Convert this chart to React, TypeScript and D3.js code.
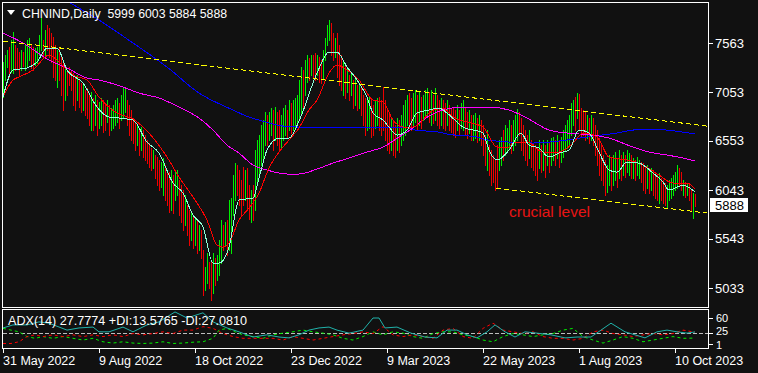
import React from "react";
import * as d3 from "d3";

// ---------------- DATA ----------------
const title = "CHNIND,Daily  5999 6003 5884 5888";
const adxTitle = "ADX(14) 27.7774 +DI:13.5765 -DI:27.0810";
const lastClose = 5888;

const highs = [
  7367, 7439, 7490, 7521, 7594, 7676, 7542, 7511, 7470, 7490,
  7470, 7542, 7594, 7614, 7542, 7521, 7511, 7521, 7645, 7821,
  7594, 7697, 7749, 7718, 7666, 7625, 7542, 7490, 7511, 7439,
  7387, 7336, 7284, 7315, 7284, 7253, 7201, 7232, 7181, 7150,
  7129, 7077, 7098, 7026, 7057, 6995, 7026, 6974, 6953, 6995,
  6974, 6943, 6974, 6922, 6891, 6922, 6974, 6995, 6943, 7026,
  7108, 7108, 6974, 6922, 6871, 6788, 6747, 6716, 6685, 6695,
  6664, 6612, 6561, 6530, 6478, 6457, 6406, 6385, 6354, 6334,
  6375, 6303, 6251, 6230, 6251, 6199, 6251, 6251, 6147, 6096,
  6044, 5993, 5889, 5838, 5817, 5786, 5755, 5734, 5683, 5631,
  5425, 5249, 5394, 5301, 5322, 5394, 5342, 5373, 5528, 5734,
  5683, 5714, 5734, 5941, 5962, 6199, 6323, 6303, 6251, 6147,
  6282, 6251, 6272, 6096, 6044, 6096, 6457, 6561, 6612, 6716,
  6767, 6850, 6819, 6850, 6891, 6871, 6902, 6850, 6871, 6819,
  6891, 6922, 6871, 6974, 6943, 6974, 6995, 7026, 7181, 7315,
  7284, 7387, 7439, 7408, 7439, 7439, 7460, 7439, 7418, 7387,
  7490, 7614, 7749, 7800, 7769, 7666, 7614, 7666, 7542, 7439,
  7387, 7336, 7305, 7232, 7263, 7181, 7201, 7129, 7150, 7098,
  7026, 6995, 6974, 7005, 6974, 6922, 6974, 6995, 7005, 6974,
  7108, 6974, 6871, 6819, 6788, 6767, 6716, 6788, 6767, 6819,
  6922, 6974, 7026, 7046, 6995, 7046, 7077, 7026, 7057, 7005,
  7026, 7077, 7098, 7057, 7077, 7026, 7098, 7026, 6974, 6995,
  6974, 6943, 6974, 6922, 6891, 6891, 6871, 6922, 6871, 6943,
  6974, 6891, 6850, 6871, 6819, 6819, 6840, 6788, 6819, 6767,
  6716, 6612, 6664, 6509, 6457, 6406, 6354, 6509, 6561, 6592,
  6664, 6716, 6685, 6767, 6716, 6767, 6819, 6881, 6850, 6788,
  6716, 6664, 6612, 6664, 6561, 6530, 6509, 6478, 6561, 6509,
  6561, 6509, 6561, 6530, 6581, 6592, 6561, 6612, 6561, 6592,
  6664, 6716, 6767, 6819, 6943, 6974, 7005, 7046, 7036, 6891,
  6871, 6850, 6819, 6788, 6819, 6788, 6716, 6664, 6581, 6509,
  6406, 6354, 6303, 6406, 6375, 6406, 6437, 6375, 6457, 6406,
  6437, 6406, 6457, 6427, 6406, 6375, 6354, 6385, 6354, 6334,
  6323, 6282, 6303, 6251, 6272, 6251, 6230, 6199, 6220, 6168,
  6147, 6117, 6096, 6147, 6168, 6199, 6230, 6303, 6272, 6230,
  6147, 6127, 6117, 6096, 6044, 6013, 6003,
];

const lows = [
  7005, 7181, 7315, 7212, 7263, 7253, 7284, 7305, 7232, 7284,
  7325, 7284, 7315, 7387, 7305, 7284, 7336, 7356, 7439, 7490,
  7418, 7439, 7490, 7418, 7367, 7212, 7181, 7108, 7181, 7026,
  6871, 6974, 7026, 7129, 7077, 6922, 6871, 6974, 6902, 6850,
  6871, 6819, 6788, 6716, 6664, 6664, 6716, 6612, 6685, 6716,
  6643, 6664, 6747, 6612, 6664, 6685, 6716, 6747, 6685, 6768,
  6788, 6850, 6716, 6612, 6561, 6530, 6457, 6509, 6406, 6457,
  6385, 6354, 6323, 6282, 6251, 6272, 6168, 6096, 6044, 6075,
  5993, 5941, 5889, 5817, 5838, 5807, 5941, 5993, 5786, 5714,
  5631, 5683, 5579, 5476, 5528, 5445, 5476, 5394, 5424, 5342,
  4960, 5011, 5084, 5032, 4908, 4980, 5063, 5115, 5166, 5290,
  5424, 5476, 5373, 5424, 5394, 5786, 5941, 5993, 5889, 5786,
  5889, 5941, 5838, 5745, 5714, 5734, 5838, 6096, 6199, 6303,
  6354, 6509, 6509, 6561, 6612, 6457, 6561, 6509, 6457, 6478,
  6561, 6612, 6581, 6664, 6633, 6664, 6685, 6716, 6767, 6819,
  6871, 7026, 7160, 7181, 7232, 7201, 7181, 7232, 7160, 7150,
  7201, 7387, 7542, 7594, 7439, 7387, 7418, 7212, 7129, 7077,
  7026, 6995, 7057, 6974, 7026, 6891, 6922, 6871, 6891, 6819,
  6716, 6612, 6664, 6685, 6592, 6612, 6685, 6716, 6664, 6612,
  6664, 6561, 6457, 6427, 6457, 6406, 6385, 6457, 6437, 6509,
  6561, 6612, 6716, 6685, 6664, 6716, 6747, 6664, 6716, 6685,
  6767, 6788, 6819, 6747, 6716, 6737, 6767, 6716, 6685, 6716,
  6685, 6664, 6716, 6664, 6643, 6612, 6592, 6664, 6612, 6685,
  6664, 6612, 6581, 6633, 6561, 6561, 6581, 6540, 6561, 6509,
  6406, 6303, 6251, 6199, 6096, 6127, 6044, 6065, 6251, 6303,
  6354, 6406, 6457, 6478, 6427, 6457, 6509, 6561, 6612, 6457,
  6406, 6354, 6303, 6375, 6282, 6251, 6199, 6147, 6272, 6230,
  6251, 6179, 6303, 6230, 6303, 6354, 6303, 6375, 6282, 6334,
  6385, 6457, 6478, 6509, 6612, 6716, 6664, 6788, 6664, 6592,
  6612, 6561, 6581, 6530, 6561, 6509, 6406, 6303, 6199, 6147,
  6096, 5993, 6024, 6096, 6044, 6096, 6147, 6075, 6168, 6147,
  6199, 6179, 6230, 6199, 6168, 6168, 6147, 6199, 6168, 6127,
  6044, 6013, 6065, 6013, 6044, 5993, 5962, 5941, 5910, 5941,
  5910, 5889, 5858, 5941, 5962, 5993, 6044, 6065, 6096, 6044,
  5993, 5972, 5993, 5941, 5838, 5755, 5884,
];

// u = up bar, d = down bar
const barDirections =
  "uuudu udddu duuud duuuu dudd d ddudd duddd ddudd uddd u duduu ddudu uuudu uuddd ddudu ddddd udddu udddu duudd dudd u dudud duudd uduuu dudu u uuddd dudd u duuuu uudu u dudd u uudud uuuuu duudu ddudd uuuud duddd ududu dudud dduud duudd dddd u ddudu uuudd uudud uuudu dudd u ddudd ddudu uddud uudud ddudd ddduu duuud uuudd dddud dddud ududu ududu uuuuu ududd ddudu ddddd dduud uudud uduud uduud ddudu dddud dduuu uuudd ududd ud";

// moving averages: [bar index, price]
const cyanMA: [number, number][] = [
  [0, 7005], [5, 7284], [12, 7305], [17, 7367], [22, 7511], [27, 7511], [32, 7284],
  [40, 7150], [47, 6902], [53, 6798], [58, 6788], [65, 6767], [72, 6540], [78, 6426],
  [85, 6117], [90, 6013], [95, 5786], [100, 5662], [105, 5290], [108, 5290], [113, 5455],
  [118, 5941], [125, 5962], [128, 6168], [132, 6457], [138, 6581], [143, 6581], [148, 6757],
  [157, 7253], [163, 7470], [167, 7470], [172, 7315], [177, 7181], [182, 7005], [185, 6840],
  [190, 6767], [193, 6695], [197, 6612], [202, 6664], [207, 6840], [213, 6871], [218, 6891],
  [222, 6840], [230, 6695], [240, 6633], [243, 6457], [247, 6354], [253, 6457], [259, 6633],
  [263, 6509], [268, 6478], [273, 6385], [278, 6426], [283, 6457], [288, 6664], [293, 6633],
  [298, 6437], [303, 6251], [307, 6230], [312, 6334], [318, 6323], [325, 6220], [330, 6127],
  [333, 6044], [337, 6075], [340, 6096], [346, 6024],
];

const redMA: [number, number][] = [
  [0, 7005], [5, 7181], [8, 7212], [15, 7284], [23, 7439], [28, 7367], [35, 7232],
  [42, 7181], [48, 7005], [57, 6840], [65, 6778], [73, 6633], [82, 6385], [88, 6179],
  [95, 5972], [102, 5734], [107, 5476], [110, 5455], [113, 5497], [118, 5734], [123, 5858],
  [128, 6013], [133, 6272], [138, 6437], [143, 6561], [148, 6685], [153, 6871], [157, 6974],
  [163, 7253], [167, 7336], [172, 7284], [178, 7181], [185, 6974], [190, 6953], [195, 6767],
  [200, 6695], [205, 6695], [210, 6767], [213, 6840], [220, 6891], [225, 6798], [232, 6747],
  [240, 6695], [247, 6488], [253, 6488], [255, 6530], [262, 6540], [270, 6437], [278, 6437],
  [285, 6530], [290, 6633], [297, 6592], [303, 6385], [312, 6354], [320, 6303], [328, 6199],
  [335, 6117], [342, 6117], [346, 6055],
];

const magentaMA: [number, number][] = [
  [0, 7666], [10, 7563], [23, 7387], [32, 7305], [42, 7201], [48, 7181], [60, 7108],
  [68, 7046], [78, 6995], [88, 6902], [98, 6788], [105, 6664], [112, 6509], [118, 6426],
  [125, 6303], [132, 6251], [142, 6210], [148, 6210], [157, 6261], [165, 6323], [173, 6375],
  [182, 6437], [190, 6488], [198, 6592], [207, 6716], [210, 6767], [220, 6871], [230, 6902],
  [243, 6902], [253, 6871], [262, 6788], [273, 6664], [282, 6633], [295, 6612], [303, 6581],
  [315, 6488], [323, 6437], [332, 6406], [340, 6375], [346, 6344],
];

const blueMA: [number, number][] = [
  [0, 8370], [31, 8007], [48, 7800], [65, 7563], [82, 7315], [98, 7046], [115, 6871],
  [123, 6798], [128, 6767], [140, 6705], [148, 6695], [173, 6695], [190, 6695], [202, 6695],
  [206, 6664], [218, 6643], [222, 6623], [237, 6592], [240, 6571], [253, 6540], [265, 6530],
  [282, 6561], [295, 6602], [307, 6633], [315, 6664], [323, 6674], [332, 6664], [346, 6623],
];

// trend lines: [bar index, price]
const upperTrend: [number, number][] = [[0, 7583], [352, 6705]];
const lowerTrend: [number, number][] = [[246.5, 6065], [352, 5807]];
const annotationText = "crucial level";
const annotationAt: [number, number] = [253, 5765];

const priceTicks = [7563, 7053, 6553, 6043, 5543, 5033];
const dateTickIndex = [0, 48, 96, 144, 192, 240, 288, 336];
const dateLabels = [
  "31 May 2022", "9 Aug 2022", "18 Oct 2022", "23 Dec 2022",
  "9 Mar 2023", "22 May 2023", "1 Aug 2023", "10 Oct 2023",
];

// ADX(14) panel: [bar index, value]
const adxLine: [number, number][] = [
  [0, 37], [5, 44], [12, 44], [18, 51], [23, 48], [32, 32], [38, 37], [45, 39], [48, 28],
  [53, 28], [60, 39], [65, 28], [72, 44], [78, 51], [86, 74], [92, 60], [100, 72], [105, 51],
  [112, 37], [118, 28], [125, 16], [132, 21], [138, 16], [143, 14], [148, 21], [153, 32],
  [158, 37], [163, 39], [167, 32], [173, 25], [180, 32], [185, 60], [188, 60], [191, 37],
  [197, 39], [204, 25], [211, 16], [217, 14], [222, 32], [227, 32], [232, 21], [237, 14],
  [242, 28], [246, 44], [251, 28], [256, 16], [261, 28], [267, 25], [274, 21], [281, 14],
  [287, 16], [294, 16], [299, 32], [304, 48], [311, 28], [316, 21], [321, 14], [327, 28],
  [332, 32], [337, 28], [342, 25], [346, 27.8],
];

const plusDI: [number, number][] = [
  [0, 36], [4, 32], [8, 28], [12, 17], [16, 13], [20, 17], [25, 13], [30, 17], [35, 13],
  [40, 9], [45, 13], [50, 5], [55, 2], [60, 5], [65, 2], [70, 1], [75, 2], [80, 5], [85, 1],
  [90, 2], [95, 4], [100, 5], [105, 13], [108, 32], [112, 36], [116, 28], [120, 21], [125, 17],
  [130, 13], [135, 21], [140, 25], [145, 28], [150, 32], [155, 28], [160, 25], [165, 21],
  [170, 13], [175, 9], [180, 17], [185, 28], [190, 21], [195, 28], [200, 25], [205, 17],
  [210, 13], [215, 24], [220, 28], [225, 28], [230, 21], [235, 17], [240, 9], [245, 5],
  [250, 17], [255, 24], [260, 21], [265, 17], [270, 21], [275, 24], [280, 32], [285, 36],
  [290, 17], [295, 9], [300, 2], [305, 9], [310, 17], [315, 13], [320, 5], [325, 9],
  [330, 13], [335, 17], [340, 13], [346, 13.6],
];

const minusDI: [number, number][] = [
  [0, 1], [4, 1], [8, 5], [12, 17], [16, 21], [20, 17], [25, 21], [30, 17], [35, 21],
  [40, 17], [45, 21], [50, 17], [55, 21], [60, 17], [65, 24], [70, 21], [75, 24], [80, 28],
  [85, 24], [90, 32], [95, 32], [100, 40], [105, 36], [110, 24], [115, 17], [120, 13],
  [125, 13], [130, 13], [135, 13], [140, 9], [145, 17], [150, 13], [155, 9], [160, 13],
  [165, 17], [170, 21], [175, 24], [180, 28], [185, 24], [190, 40], [195, 21], [200, 17],
  [205, 21], [210, 17], [215, 13], [220, 32], [225, 36], [230, 17], [235, 13], [240, 36],
  [245, 48], [250, 32], [255, 28], [260, 24], [265, 28], [270, 17], [275, 13], [280, 13],
  [285, 9], [290, 13], [295, 28], [300, 32], [305, 24], [310, 21], [315, 17], [320, 21],
  [325, 24], [330, 21], [335, 24], [340, 32], [346, 27.1],
];
const adxTicks = [60, 25, 1];
const adxLevel = 25;

// ---------------- CHART ----------------
const W = 758;
const H = 373;
const FONT = "'Liberation Sans', Arial, sans-serif";
const BG = "#111111";

export default function App() {
  const dirs = barDirections.replace(/\s/g, "");
  const x = d3.scaleLinear().domain([0, 346]).range([3, 695]);
  const y = d3.scaleLinear().domain([5033, 7563]).range([288, 43]);
  const ya = d3.scaleLinear().domain([1, 60]).range([343.5, 318]);

  const maLine = d3
    .line<[number, number]>()
    .x((d) => x(d[0]))
    .y((d) => y(d[1]))
    .curve(d3.curveMonotoneX);
  const adxPath = d3
    .line<[number, number]>()
    .x((d) => x(d[0]))
    .y((d) => ya(d[1]));
  const straight = d3
    .line<[number, number]>()
    .x((d) => x(d[0]))
    .y((d) => y(d[1]));

  const mainL = 2.5, mainR = 708.5, mainT = 2.5, mainB = 307.5;
  const adxT = 309.5, adxB = 348.5;
  // label offsets for the crowded ADX scale (keeps "25" and "1" apart)
  const adxLabelShift: Record<number, number> = { 60: 0, 25: -1.5, 1: 2 };

  return (
    <svg
      width={W}
      height={H}
      viewBox={`0 0 ${W} ${H}`}
      style={{ position: "fixed", left: 0, top: 0, display: "block", background: BG }}
    >
      <defs>
        <clipPath id="mainClip">
          <rect x={3} y={3} width={705} height={304} />
        </clipPath>
        <clipPath id="adxClip">
          <rect x={3} y={310} width={705} height={38} />
        </clipPath>
      </defs>
      <rect x={0} y={0} width={W} height={H} fill={BG} />

      {/* main panel */}
      <g clipPath="url(#mainClip)">
        {highs.map((h, i) => {
          const xx = Math.round(x(i)) + 0.5;
          return (
            <line
              key={i}
              x1={xx}
              x2={xx}
              y1={Math.round(y(h))}
              y2={Math.round(y(lows[i])) + 1}
              stroke={dirs[i] === "u" ? "#00ee00" : "#ee0000"}
              strokeWidth={1}
              shapeRendering="crispEdges"
            />
          );
        })}
        <path d={maLine(blueMA) || ""} fill="none" stroke="#0000ff" strokeWidth={1} shapeRendering="crispEdges" />
        <path d={maLine(magentaMA) || ""} fill="none" stroke="#ff00ff" strokeWidth={1} shapeRendering="crispEdges" />
        <path d={maLine(redMA) || ""} fill="none" stroke="#ff0000" strokeWidth={1} shapeRendering="crispEdges" />
        <path d={maLine(cyanMA) || ""} fill="none" stroke="#8fffd8" strokeWidth={1} shapeRendering="crispEdges" />
        <path d={straight(upperTrend) || ""} fill="none" stroke="#ffff00" strokeWidth={1} strokeDasharray="5 3" shapeRendering="crispEdges" />
        <path d={straight(lowerTrend) || ""} fill="none" stroke="#ffff00" strokeWidth={1} strokeDasharray="5 3" shapeRendering="crispEdges" />
        <text
          x={x(annotationAt[0])}
          y={y(annotationAt[1])}
          fill="#e81414"
          fontFamily={FONT}
          fontSize={15.5}
        >
          {annotationText}
        </text>
      </g>
      <rect x={mainL} y={mainT} width={mainR - mainL} height={mainB - mainT} fill="none" stroke="#ffffff" strokeWidth={1} shapeRendering="crispEdges" />

      {/* title */}
      <path d="M7,10 L15,10 L11,15 Z" fill="#ffffff" />
      <text x={22} y={17.5} fill="#ffffff" fontFamily={FONT} fontSize={12.3} style={{ whiteSpace: "pre" }}>
        {title}
      </text>

      {/* price axis */}
      {priceTicks.map((p) => (
        <g key={p}>
          <line x1={708} x2={713} y1={Math.round(y(p)) + 0.5} y2={Math.round(y(p)) + 0.5} stroke="#ffffff" shapeRendering="crispEdges" />
          <text x={715} y={y(p)} dy="0.36em" fill="#ffffff" fontFamily={FONT} fontSize={13}>
            {p}
          </text>
        </g>
      ))}
      <rect x={710} y={Math.round(y(lastClose)) - 7} width={38} height={14} fill="#ffffff" />
      <text x={715} y={y(lastClose)} dy="0.36em" fill="#000000" fontFamily={FONT} fontSize={13}>
        {lastClose}
      </text>

      {/* ADX panel */}
      <g clipPath="url(#adxClip)">
        <line x1={3} x2={708} y1={Math.round(ya(adxLevel)) + 0.5} y2={Math.round(ya(adxLevel)) + 0.5} stroke="#bdbdbd" strokeDasharray="4 2" shapeRendering="crispEdges" />
        <path d={adxPath(plusDI) || ""} fill="none" stroke="#00ee00" strokeWidth={1} strokeDasharray="3 3" />
        <path d={adxPath(minusDI) || ""} fill="none" stroke="#ff0000" strokeWidth={1} strokeDasharray="3 3" />
        <path d={adxPath(adxLine) || ""} fill="none" stroke="#20b2aa" strokeWidth={1} />
      </g>
      <rect x={mainL} y={adxT} width={mainR - mainL} height={adxB - adxT} fill="none" stroke="#ffffff" strokeWidth={1} shapeRendering="crispEdges" />
      <text x={8} y={320} dy="0.36em" fill="#ffffff" fontFamily={FONT} fontSize={12.6}>
        {adxTitle}
      </text>
      {adxTicks.map((v) => (
        <g key={v}>
          <line x1={708} x2={713} y1={Math.round(ya(v)) + 0.5} y2={Math.round(ya(v)) + 0.5} stroke="#ffffff" shapeRendering="crispEdges" />
          <text x={716} y={ya(v) + (adxLabelShift[v] || 0)} dy="0.33em" fill="#ffffff" fontFamily={FONT} fontSize={11}>
            {v}
          </text>
        </g>
      ))}

      {/* date axis */}
      {dateTickIndex.map((idx, k) => {
        const xx = Math.round(x(idx)) + 0.5;
        return (
          <g key={idx}>
            <line x1={xx} x2={xx} y1={349} y2={353} stroke="#ffffff" shapeRendering="crispEdges" />
            <text x={xx - 0.5} y={365} fill="#ffffff" fontFamily={FONT} fontSize={12.5}>
              {dateLabels[k]}
            </text>
          </g>
        );
      })}
    </svg>
  );
}
